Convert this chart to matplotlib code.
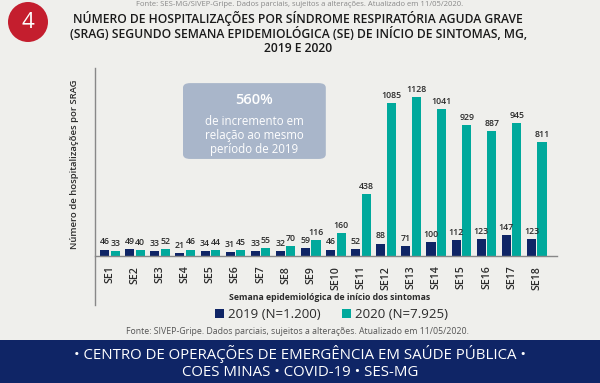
import matplotlib.pyplot as plt
from matplotlib.patches import FancyBboxPatch, Circle
from matplotlib.lines import Line2D
import numpy as np

plt.rcParams['font.family'] = ['Open Sans', 'DejaVu Sans']

weeks = ['SE%d' % i for i in range(1, 19)]
cases_2019 = [46, 49, 33, 21, 34, 31, 33, 32, 59, 46, 52, 88, 71, 100, 112, 123, 147, 123]
cases_2020 = [33, 40, 52, 46, 44, 45, 55, 70, 116, 160, 438, 1085, 1128, 1041, 929, 887, 945, 811]
legend_labels = ['2019 (N=1.200)', '2020 (N=7.925)']

navy = '#0f2566'
teal = '#00a99c'
bg = '#efefec'
text_dark = '#2b2b2b'

fig = plt.figure(figsize=(6, 3.83), dpi=100)
fig.patch.set_facecolor(bg)

ax = fig.add_axes([0.158, 0.3316, 0.77, 0.491])
ax.set_facecolor(bg)
x = np.arange(len(weeks))
w = 0.36
b1 = ax.bar(x - 0.21, cases_2019, w, color=navy, label=legend_labels[0])
b2 = ax.bar(x + 0.21, cases_2020, w, color=teal, label=legend_labels[1])
for rect, v in zip(b1, cases_2019):
    ax.text(rect.get_x() + rect.get_width() / 2, v + 22, str(v), ha='center', va='bottom',
            fontsize=6.3, color=text_dark, fontweight='semibold')
for rect, v in zip(b2, cases_2020):
    ax.text(rect.get_x() + rect.get_width() / 2, v + 22, str(v), ha='center', va='bottom',
            fontsize=6.3, color=text_dark, fontweight='semibold')

ax.set_xlim(-0.6, 17.8)
ax.set_ylim(0, 1334)
ax.set_yticks([])
ax.set_xticks(x)
ax.set_xticklabels(weeks, rotation=90, fontsize=7.6, color=text_dark, fontweight='semibold')
ax.tick_params(axis='x', length=0, pad=7)
for s in ['top', 'right', 'left']:
    ax.spines[s].set_visible(False)
ax.spines['bottom'].set_color('#888888')
ax.spines['bottom'].set_linewidth(1.0)

# long left axis line
fig.add_artist(Line2D([0.158, 0.158], [0.822, 0.204], color='#888888', lw=1.0))

fig.text(0.124, 0.57, 'Número de hospitalizações por SRAG', rotation=90, ha='center', va='center',
         fontsize=6.8, color=text_dark, fontweight='semibold')
fig.text(0.55, 0.222, 'Semana epidemiológica de início dos sintomas', ha='center', va='center',
         fontsize=6.3, color=text_dark, fontweight='bold')

leg = fig.legend(handles=[b1, b2], labels=legend_labels, loc='center', bbox_to_anchor=(0.553, 0.178),
                 ncol=2, frameon=False, fontsize=9.5, handlelength=0.7, handleheight=0.7,
                 handletextpad=0.3, columnspacing=1.6)
for t in leg.get_texts():
    t.set_color(text_dark)

fig.text(0.495, 0.135, 'Fonte: SIVEP-Gripe. Dados parciais, sujeitos a alterações. Atualizado em 11/05/2020.',
         ha='center', va='center', fontsize=6.3, color='#555555')

# annotation box
box = FancyBboxPatch((0.305, 0.585), 0.238, 0.198, boxstyle='round,pad=0,rounding_size=0.012',
                     transform=fig.transFigure, facecolor='#a9b6ca', edgecolor='none')
fig.add_artist(box)
fig.text(0.424, 0.738, '560%', ha='center', va='center', fontsize=10.5, color='white', fontweight='semibold')
fig.text(0.424, 0.647, 'de incremento em\nrelação ao mesmo\nperíodo de 2019', ha='center', va='center',
         fontsize=8.3, color='white', linespacing=1.1)

# title
fig.text(0.497, 0.913, 'NÚMERO DE HOSPITALIZAÇÕES POR SÍNDROME RESPIRATÓRIA AGUDA GRAVE\n'
         '(SRAG) SEGUNDO SEMANA EPIDEMIOLÓGICA (SE) DE INÍCIO DE SINTOMAS, MG,\n2019 E 2020',
         ha='center', va='center', fontsize=8.7, color='#1a1a1a', fontweight='semibold', linespacing=1.1)
fig.text(0.5, 0.997, 'Fonte: SES-MG/SIVEP-Gripe. Dados parciais, sujeitos a alterações. Atualizado em 11/05/2020.',
         ha='center', va='top', fontsize=5.5, color='#888888')

# number badge (drawn in inches so it stays round)
fig.add_artist(Circle((0.28, 3.83 - 0.22), 0.2, transform=fig.dpi_scale_trans,
                      facecolor='#c41e2e', edgecolor='none'))
fig.text(28 / 600, 1 - 23 / 383, '4', ha='center', va='center', fontsize=16, color='white')

# footer band
fig.add_artist(plt.Rectangle((0, 0), 1, 43 / 383, transform=fig.transFigure,
                             facecolor='#0f2566', edgecolor='none'))
fig.text(0.5, 1 - 354 / 383, '• CENTRO DE OPERAÇÕES DE EMERGÊNCIA EM SAÚDE PÚBLICA •',
         ha='center', va='center', fontsize=10.8, color='white')
fig.text(0.5, 1 - 372 / 383, 'COES MINAS • COVID-19 • SES-MG',
         ha='center', va='center', fontsize=10.8, color='white')

fig.savefig('out.png', dpi=100, facecolor=bg)
